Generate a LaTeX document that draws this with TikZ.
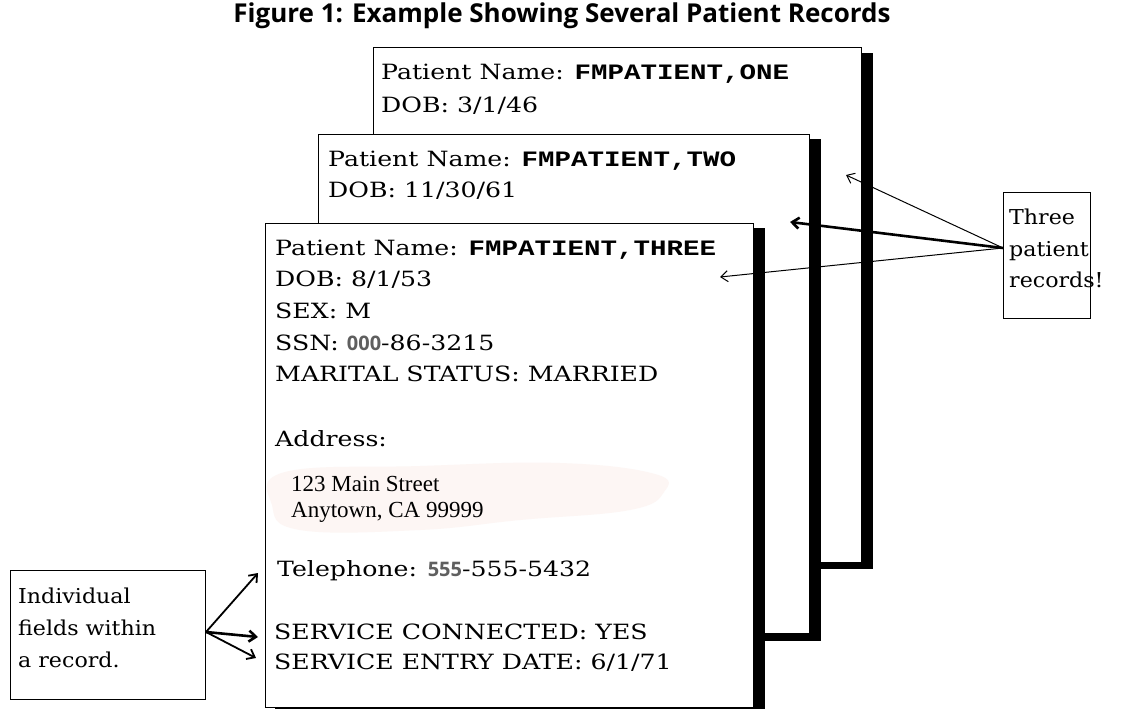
\documentclass[tikz,border=0pt]{standalone}
\usepackage{fontspec}
\usetikzlibrary{arrows.meta}
\newfontfamily\cardf{DejaVu Serif}[FakeStretch=1.2]
\newfontfamily\notef{DejaVu Serif}[FakeStretch=1.08]
\newfontfamily\namef{Liberation Mono}[FakeStretch=1.25]
\newfontfamily\addrf{Liberation Serif}
\newfontfamily\grayf{Open Sans}
\newfontfamily\titlef{Open Sans}
\definecolor{blush}{RGB}{253,246,244}
\definecolor{numgray}{RGB}{95,95,95}
\newcommand{\pname}[1]{{\namef\bfseries\fontsize{22}{25}\selectfont #1}}
\newcommand{\gnum}[1]{{\grayf\bfseries\color{numgray}\fontsize{20}{23}\selectfont #1}}
\begin{document}
\begin{tikzpicture}[x=1pt,y=-1pt,
  card/.style={draw=black, line width=1.3pt, fill=white, anchor=north west, inner sep=0pt},
  shade/.style={fill=black},
  note/.style={draw=black, line width=1.3pt, fill=white, anchor=north west, inner sep=0pt},
  txt/.style={anchor=base west, inner sep=0pt, font=\cardf\fontsize{21}{25}\selectfont},
  ntxt/.style={anchor=base west, inner sep=0pt, font=\notef\fontsize{20.5}{24}\selectfont},
  addr/.style={anchor=base west, inner sep=0pt, font=\addrf\fontsize{23}{27}\selectfont},
  thinarr/.style={-{Straight Barb[length=7pt,width=11pt]}, line width=1pt},
  medarr/.style={-{Straight Barb[length=7pt,width=11pt]}, line width=1.8pt},
  thickarr/.style={-{Straight Barb[length=7pt,width=11pt]}, line width=2.6pt}]
\useasboundingbox (0,0) rectangle (1124,709);
\fill[white] (0,0) rectangle (1124,709);

% title
\node[anchor=base, inner sep=0pt, font=\titlef\bfseries\fontsize{26}{30}\selectfont] (title) at (562,23)
  {Figure 1: Example Showing Several Patient Records};

% card 1
\fill[shade] (383,53) rectangle (873,569);
\node[card, minimum width=488, minimum height=515] (card1) at (373,47) {};
\node[txt] (c1a) at (381,79) {Patient Name: \pname{FMPATIENT,ONE}};
\node[txt] (c1b) at (381,112) {DOB: 3/1/46};

% card 2
\fill[shade] (328,139) rectangle (821,641);
\node[card, minimum width=491, minimum height=499] (card2) at (318,134) {};
\node[txt] (c2a) at (328,166) {Patient Name: \pname{FMPATIENT,TWO}};
\node[txt] (c2b) at (328,197) {DOB: 11/30/61};

% card 3
\fill[shade] (275,228) rectangle (765,720);
\node[card, minimum width=488, minimum height=484] (card3) at (265,223) {};
\fill[blush] plot[smooth cycle, tension=0.7] coordinates
  {(285,472) (420,466) (560,463) (655,474) (664,492) (630,510) (520,520) (420,530) (300,530) (272,505)};
\node[txt] (c3a) at (275,255) {Patient Name: \pname{FMPATIENT,THREE}};
\node[txt] (c3b) at (275,286) {DOB: 8/1/53};
\node[txt] (c3c) at (275,318) {SEX: M};
\node[txt] (c3d) at (275,350) {SSN: \gnum{000}-86-3215};
\node[txt] (c3e) at (275,381) {MARITAL STATUS: MARRIED};
\node[txt] (c3f) at (275,446) {Address:};
\node[addr] (c3g) at (291,491) {123 Main Street};
\node[addr] (c3h) at (291,517) {Anytown, CA 99999};
\node[txt] (c3i) at (277,576) {Telephone: \gnum{555}-555-5432};
\node[txt] (c3j) at (274,639) {SERVICE CONNECTED: YES};
\node[txt] (c3k) at (274,669) {SERVICE ENTRY DATE: 6/1/71};

% note: three patient records
\node[note, minimum width=87, minimum height=126] (three) at (1003,192) {};
\node[ntxt] (t1) at (1009,224) {Three};
\node[ntxt] (t2) at (1009,256) {patient};
\node[ntxt] (t3) at (1009,287) {records!};
\coordinate (ts) at (1003,248);
\coordinate (ta) at (846,175);
\coordinate (tb) at (790,222);
\coordinate (tc) at (720,277);
\draw[thinarr] (ts) -- (ta);
\draw[thickarr] (ts) -- (tb);
\draw[thinarr] (ts) -- (tc);

% note: individual fields
\node[note, minimum width=195, minimum height=129] (indiv) at (10,570) {};
\node[ntxt] (i1) at (18,603) {Individual};
\node[ntxt] (i2) at (18,635) {fields within};
\node[ntxt] (i3) at (18,667) {a record.};
\coordinate (is) at (206,632);
\coordinate (ia) at (258,573);
\coordinate (ib) at (258,637);
\coordinate (ic) at (256,658);
\draw[medarr] (is) -- (ia);
\draw[thickarr] (is) -- (ib);
\draw[medarr] (is) -- (ic);
\end{tikzpicture}
\end{document}
